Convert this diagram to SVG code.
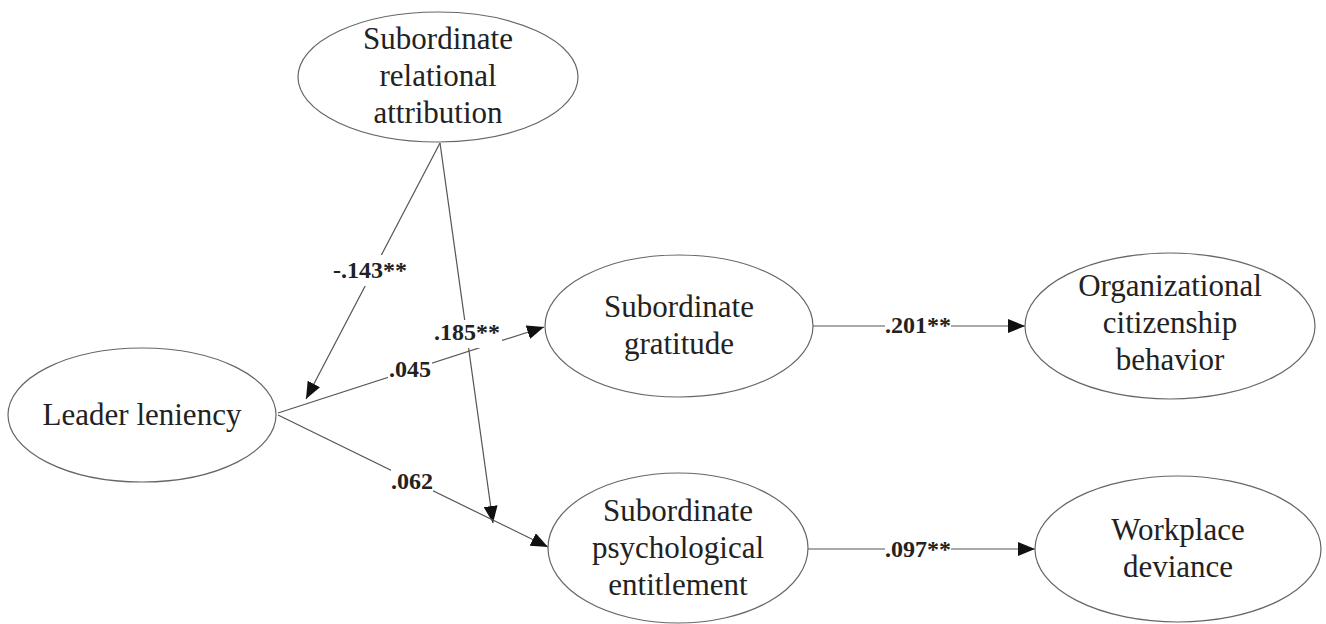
<svg xmlns="http://www.w3.org/2000/svg" width="1326" height="624" viewBox="0 0 1326 624">
<style>
.node ellipse{fill:#fff;stroke:#666;stroke-width:1.2}
.node text{font-family:"Liberation Serif","Times New Roman",serif;font-size:31px;fill:#222;text-anchor:middle}
.edge{stroke:#555;stroke-width:1.2;fill:none;marker-end:url(#arr)}
.lbg{fill:#fff}
.lbl{font-family:"Liberation Serif","Times New Roman",serif;font-size:24px;font-weight:bold;fill:#222;text-anchor:middle}
</style>
<defs>
<marker id="arr" markerUnits="userSpaceOnUse" markerWidth="17" markerHeight="14" refX="17" refY="7" orient="auto">
<path d="M0,0 L17,7 L0,14 Z" fill="#111"/>
</marker>
</defs>
<rect width="1326" height="624" fill="#fff"/>
<g id="connectors">
<line class="edge" x1="440" y1="143" x2="306" y2="399"/>
<line class="edge" x1="440" y1="143" x2="493" y2="523"/>
<line class="edge" x1="278" y1="413" x2="544" y2="327"/>
<line class="edge" x1="278" y1="415" x2="548" y2="547"/>
<line class="edge" x1="813" y1="326" x2="1025" y2="326"/>
<line class="edge" x1="808" y1="549" x2="1035" y2="549"/>
<rect class="lbg" x="333" y="255" width="74" height="31"/>
<text class="lbl" x="370" y="278">-.143**</text>
<rect class="lbg" x="433" y="320" width="69" height="28"/>
<text class="lbl" x="467" y="340">.185**</text>
<rect class="lbg" x="388" y="358" width="44" height="24"/>
<text class="lbl" x="410" y="377">.045</text>
<rect class="lbg" x="391" y="468" width="42" height="26"/>
<text class="lbl" x="412" y="489">.062</text>
<rect class="lbg" x="885" y="314" width="66" height="24"/>
<text class="lbl" x="918" y="333">.201**</text>
<rect class="lbg" x="885" y="537" width="66" height="24"/>
<text class="lbl" x="918" y="557">.097**</text>
</g>
<g id="attribution" class="node">
<ellipse cx="438" cy="77" rx="140" ry="65"/>
<text x="438" y="49">Subordinate</text>
<text x="438" y="86">relational</text>
<text x="438" y="123">attribution</text>
</g>
<g id="leniency" class="node">
<ellipse cx="142" cy="415" rx="134" ry="67"/>
<text x="142" y="425">Leader leniency</text>
</g>
<g id="gratitude" class="node">
<ellipse cx="679" cy="326" rx="134" ry="71"/>
<text x="679" y="317">Subordinate</text>
<text x="679" y="354">gratitude</text>
</g>
<g id="entitlement" class="node">
<ellipse cx="678" cy="548" rx="130" ry="75"/>
<text x="678" y="521">Subordinate</text>
<text x="678" y="558">psychological</text>
<text x="678" y="595">entitlement</text>
</g>
<g id="ocb" class="node">
<ellipse cx="1170" cy="326" rx="145" ry="73"/>
<text x="1170" y="296">Organizational</text>
<text x="1170" y="333">citizenship</text>
<text x="1170" y="370">behavior</text>
</g>
<g id="deviance" class="node">
<ellipse cx="1178" cy="549" rx="143" ry="73"/>
<text x="1178" y="540">Workplace</text>
<text x="1178" y="577">deviance</text>
</g>
</svg>
